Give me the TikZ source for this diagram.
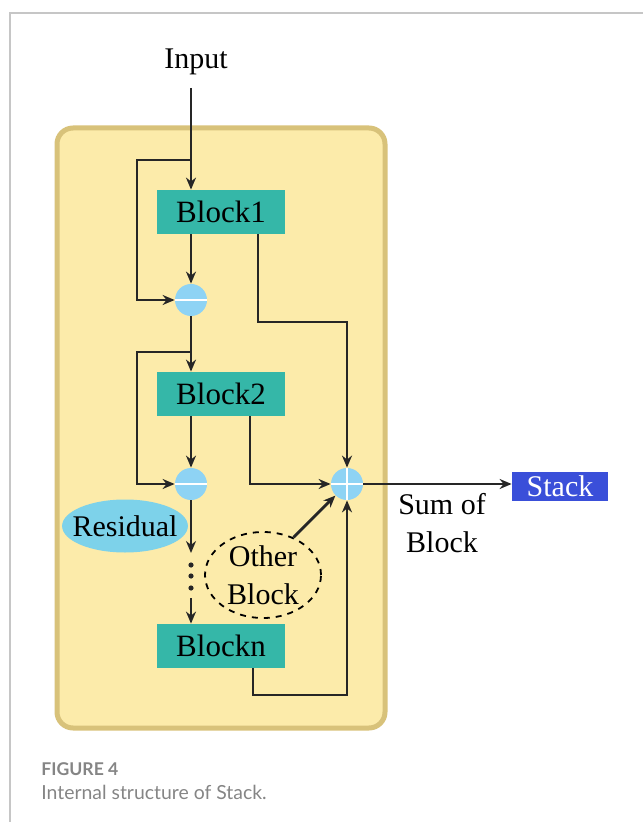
\documentclass[tikz,border=0pt]{standalone}
\usepackage{fontspec}
\setmainfont{Liberation Serif}
\newfontfamily\capfont{Lato}
\usetikzlibrary{positioning, arrows.meta, shapes.geometric}
\definecolor{panelfill}{HTML}{FCEBAA}
\definecolor{paneledge}{HTML}{D8C27A}
\definecolor{blockteal}{HTML}{35B7A8}
\definecolor{opblue}{HTML}{8ED3F4}
\definecolor{resblue}{HTML}{7DD2EA}
\definecolor{stackblue}{HTML}{3A4FD9}
\definecolor{capgray}{HTML}{858585}
\tikzset{
  % Block boxes
  blockbox/.style={rectangle, fill=blockteal, minimum width=64pt, minimum height=22pt, inner sep=0pt, font=\fontsize{15.5}{18}\selectfont},
  % Operation circles
  minusop/.style={circle, fill=opblue, minimum size=16pt, inner sep=0pt,
    path picture={\draw[white, line width=1.1pt] (path picture bounding box.west) -- (path picture bounding box.east);}},
  plusop/.style={minusop,
    path picture={\draw[white, line width=1.1pt] (path picture bounding box.west) -- (path picture bounding box.east)
      (path picture bounding box.north) -- (path picture bounding box.south);}},
  % Connectors
  conn/.style={draw=black!85, line width=1.4pt, -{Stealth[length=6pt, width=5pt]}},
  % Labels
  txt/.style={font=\fontsize{15}{19}\selectfont, align=center, inner sep=0pt},
}

\begin{document}
\begin{tikzpicture}[x=0.5pt, y=-0.5pt]
  \useasboundingbox (0,0) rectangle (643,822);

  % page frame
  \draw[gray!45, line width=0.6pt] (10,822) -- (10,13) -- (643,13);

  % --- STACK PANEL ---
  \draw[fill=panelfill, draw=paneledge, line width=2.5pt, rounded corners=8pt] (57,128) rectangle (385,728);

  \node[txt] (in) at (196,62) {Input};
  \coordinate (top) at (191,88);

  \node[blockbox] (b1) at (221,212) {Block1};
  \node[blockbox] (b2) at (221,394) {Block2};
  \node[blockbox] (bn) at (221,646) {Blockn};

  \node[minusop] (c1) at (191,300) {};
  \node[minusop] (c2) at (191,484) {};
  \node[plusop] (plus) at (347,484) {};

  \node[ellipse, fill=resblue, txt, inner xsep=-4pt, inner ysep=0pt, minimum height=26.5pt] (res) at (125,526) {Residual};
  \node[ellipse, draw, dashed, line width=0.9pt, minimum width=58pt, minimum height=43pt, inner sep=0pt, txt] (oth) at (263,575) {Other\\Block};

  % helper points
  \coordinate (sp1) at (191,160);
  \coordinate (l1) at (137,160);
  \coordinate (sp2) at (191,352);
  \coordinate (l2) at (137,352);
  \coordinate (r1) at (258,322);
  \coordinate (r2) at (250,484);
  \coordinate (r3) at (253,695);
  \coordinate (d1) at (191,553);
  \coordinate (d2) at (191,598);

  % --- MAIN CHAIN ---
  \draw[conn] (top) -- (top |- b1.north);
  \draw[conn] (sp1) -- (l1) |- (c1);
  \draw[conn] (c1 |- b1.south) -- (c1);
  \draw[conn] (c1) -- (c1 |- b2.north);
  \draw[conn] (sp2) -- (l2) |- (c2);
  \draw[conn] (c2 |- b2.south) -- (c2);
  \draw[conn] (c2) -- (d1);
  \foreach \y in {565,576,588} \fill[black!85] (191,\y) circle (2.6);
  \draw[conn] (d2) -- (d2 |- bn.north);

  % --- SUM PATHS ---
  \draw[conn] (r1 |- b1.south) -- (r1) -| (plus);
  \draw[conn] (r2 |- b2.south) -- (r2) -- (plus);
  \draw[conn] (r3 |- bn.south) -- (r3) -| (plus);
  \draw[conn] (oth.51) -- (plus);

  % --- OUTPUT ---
  \node[rectangle, fill=stackblue, text=white, minimum width=48pt, minimum height=14.5pt, inner sep=0pt, txt] (stack) at (560,486) {Stack};
  \draw[conn] (plus) -- (plus -| stack.west);
  \node[txt] (sum) at (442,523) {Sum of\\Block};

  % --- CAPTION ---
  \node[anchor=west, inner sep=0pt, text=capgray, font=\capfont\bfseries\fontsize{8.8}{10}\selectfont] (fig) at (41,769) {FIGURE 4};
  \node[anchor=west, inner sep=0pt, text=capgray, font=\capfont\fontsize{9.7}{12}\selectfont] (cap) at (41,792) {Internal structure of Stack.};
\end{tikzpicture}
\end{document}
